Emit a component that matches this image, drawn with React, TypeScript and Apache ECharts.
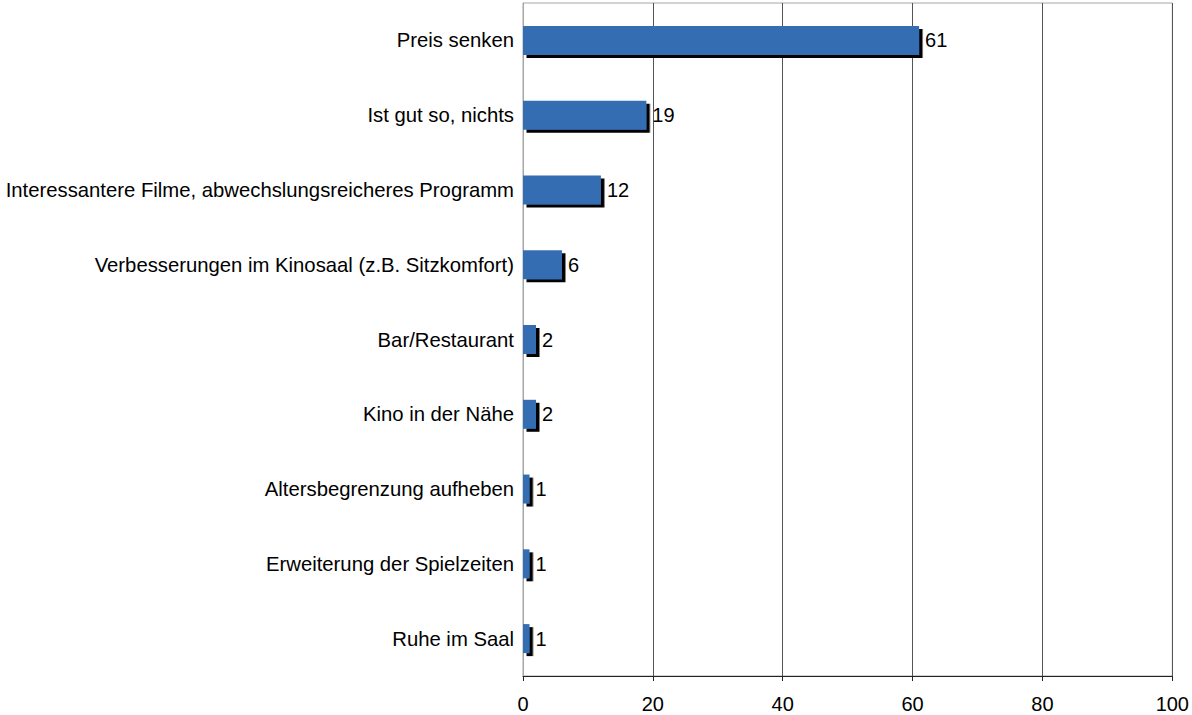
import React, { useEffect, useRef } from "react";
import * as echarts from "echarts";

const categories = [
  "Preis senken",
  "Ist gut so, nichts",
  "Interessantere Filme, abwechslungsreicheres Programm",
  "Verbesserungen im Kinosaal (z.B. Sitzkomfort)",
  "Bar/Restaurant",
  "Kino in der Nähe",
  "Altersbegrenzung aufheben",
  "Erweiterung der Spielzeiten",
  "Ruhe im Saal",
];
const values = [61, 19, 12, 6, 2, 2, 1, 1, 1];
const xMin = 0;
const xMax = 100;
const xInterval = 20;

const FONT = "'Liberation Sans', Arial, sans-serif";

export default function App() {
  const ref = useRef<HTMLDivElement>(null);
  useEffect(() => {
    if (!ref.current) return;
    const chart = echarts.init(ref.current, null, { renderer: "svg" });
    chart.setOption({
      animation: false,
      backgroundColor: "#ffffff",
      textStyle: { fontFamily: FONT },
      grid: {
        left: 523,
        right: 17,
        top: 3,
        bottom: 39,
        show: true,
        borderColor: "#a6a6a6",
        borderWidth: 1,
        backgroundColor: "transparent",
      },
      xAxis: {
        type: "value",
        min: xMin,
        max: xMax,
        interval: xInterval,
        axisLine: { show: true, lineStyle: { color: "#222222", width: 1 } },
        axisTick: { show: true, length: 5, lineStyle: { color: "#222222" } },
        axisLabel: { color: "#000000", fontSize: 20, fontFamily: FONT, margin: 18 },
        splitLine: { show: true, lineStyle: { color: "#555555", width: 1 } },
      },
      yAxis: {
        type: "category",
        data: categories,
        inverse: true,
        axisLine: { show: true, lineStyle: { color: "#a6a6a6", width: 1 } },
        axisTick: { show: false },
        axisLabel: { color: "#000000", fontSize: 20.3, fontFamily: FONT, margin: 9 },
        splitLine: { show: false },
      },
      series: [
        {
          type: "bar",
          data: values,
          barWidth: 29,
          itemStyle: {
            color: "#346db2",
            shadowColor: "#000000",
            shadowBlur: 0,
            shadowOffsetX: 3.5,
            shadowOffsetY: 3,
          },
          label: {
            show: true,
            position: "right",
            distance: 6,
            color: "#000000",
            fontSize: 20,
            fontFamily: FONT,
          },
        },
      ],
    });
    return () => chart.dispose();
  }, []);
  return <div ref={ref} style={{ width: 1192, height: 715, position: "absolute", left: 0, top: 0 }} />;
}
